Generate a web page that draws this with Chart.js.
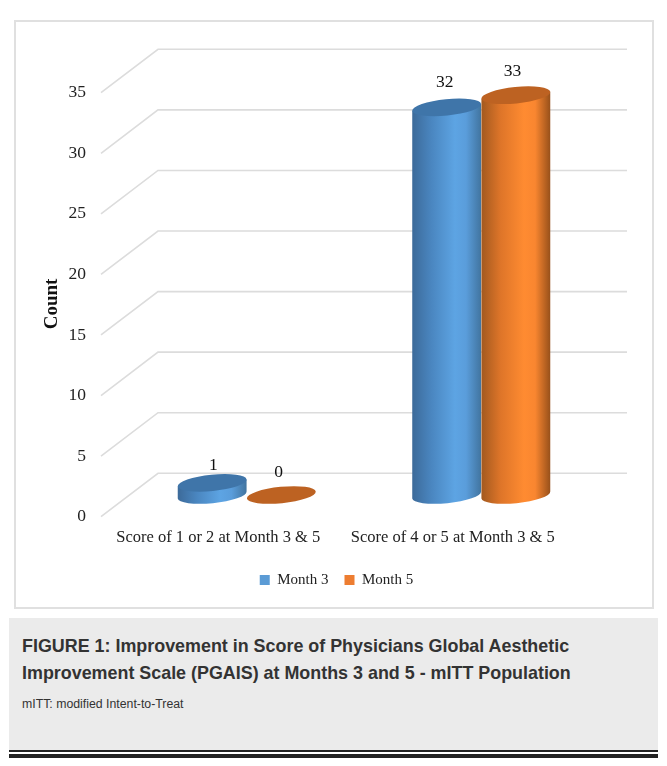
<!DOCTYPE html>
<html>
<head>
<meta charset="utf-8">
<title>PGAIS improvement</title>
<style>
  html, body { margin: 0; padding: 0; background: #fff; }
  #page { position: relative; width: 667px; height: 766px; overflow: hidden; }
  #frame { position: absolute; left: 14px; top: 20px; width: 636px; height: 585px; border: 2px solid #e0e0e0; }
  #chart { position: absolute; left: 0; top: 0; }
  #caption { position: absolute; left: 9px; top: 618px; width: 649px; height: 132px; background: #ebebeb; color: #333; font-family: "Liberation Sans", sans-serif; }
  #caption h3 { position: absolute; left: 13px; top: 15px; margin: 0; font-size: 17.9px; line-height: 27px; font-weight: bold; white-space: nowrap; }
  #caption p { position: absolute; left: 13px; top: 79px; margin: 0; font-size: 12.3px; line-height: 14px; white-space: nowrap; }
  #rule1 { position: absolute; left: 9px; top: 750px; width: 649px; height: 2px; background: #222; }
  #rule2 { position: absolute; left: 9px; top: 754px; width: 649px; height: 4px; background: #222; }
</style>
<script src="https://cdn.jsdelivr.net/npm/chart.js@4"></script>
</head>
<body>
<div id="page">
  <div id="frame"></div>
  <canvas id="chart" width="667" height="612"></canvas>
  <div id="caption">
    <h3>FIGURE 1: Improvement in Score of Physicians Global Aesthetic<br>Improvement Scale (PGAIS) at Months 3 and 5 - mITT Population</h3>
    <p>mITT: modified Intent-to-Treat</p>
  </div>
  <div id="rule1"></div>
  <div id="rule2"></div>
</div>
<script>
const categories = ['Score of 1 or 2 at Month 3 & 5', 'Score of 4 or 5 at Month 3 & 5'];
const seriesNames = ['Month 3', 'Month 5'];
const month3Values = [1, 32];
const month5Values = [0, 33];
const axisTitle = 'Count';

const serifFont = '"Liberation Serif", "Times New Roman", serif';

// half of the fake 3D floor depth, in pixels
const depthX = 28.5;
const depthY = 21.7;
const tilt = -0.1;
const capRadiusY = 8.2;

// value label offset from the cap centre, per series and category
const labelLift = [[17.5, 25], [23, 23.5]];
const labelShift = [[1.3, -2], [-2.7, -3.4]];

const shades = [
  { legend: '#5b9bd5', cap: '#3f75a9', side: ['#3c6a99', '#4a86c0', '#5da4e3', '#5a9ddb', '#41749f'] },
  { legend: '#ed7d31', cap: '#bd6222', side: ['#a2591f', '#de7529', '#ff8b31', '#f98630', '#97501a'] }
];

// back wall and side wall lines, one pair per y tick
const wallGrid = {
  id: 'wallGrid',
  afterLayout(chart) {
    // nudge the legend over, the y axis padding pulls it left of the frame centre
    chart.legend.left += 5;
    chart.legend.right += 5;
  },
  beforeDatasetsDraw(chart) {
    const { ctx, chartArea, scales } = chart;
    ctx.save();
    ctx.strokeStyle = '#dcdcdc';
    ctx.lineWidth = 1.6;
    scales.y.ticks.forEach(t => {
      const py = scales.y.getPixelForValue(t.value);
      ctx.beginPath();
      ctx.moveTo(chartArea.left - depthX, py + depthY);
      ctx.lineTo(chartArea.left + depthX, py - depthY);
      ctx.lineTo(chartArea.right + depthX, py - depthY);
      ctx.stroke();
    });
    ctx.restore();
  }
};

function drawCylinder(ctx, bar, shade) {
  const { x, y, base, width } = bar.getProps(['x', 'y', 'base', 'width'], true);
  const rx = width / 2;
  const dx = rx * Math.cos(tilt);
  const dy = rx * Math.sin(tilt);

  if (base - y > 0.5) {
    const grad = ctx.createLinearGradient(x - rx, 0, x + rx, 0);
    shade.side.forEach((c, i) => grad.addColorStop([0, 0.28, 0.62, 0.78, 1][i], c));
    ctx.fillStyle = grad;
    ctx.beginPath();
    ctx.moveTo(x - dx, y - dy);
    ctx.lineTo(x - dx, base - dy);
    ctx.ellipse(x, base, rx, capRadiusY, tilt, Math.PI, 0, true);
    ctx.lineTo(x + dx, y + dy);
    ctx.closePath();
    ctx.fill();
  }

  ctx.fillStyle = shade.cap;
  ctx.beginPath();
  ctx.ellipse(x, y, rx, capRadiusY, tilt, 0, Math.PI * 2);
  ctx.fill();
}

// bars come out as cylinders, shorter one first so the taller sits in front
const cylinders = {
  id: 'cylinders',
  beforeDatasetDraw() {
    return false;
  },
  afterDatasetsDraw(chart) {
    const { ctx, data } = chart;
    categories.forEach((_, i) => {
      const order = data.datasets
        .map((ds, d) => ({ d, value: ds.data[i] }))
        .sort((a, b) => a.value - b.value);
      order.forEach(({ d }) => {
        drawCylinder(ctx, chart.getDatasetMeta(d).data[i], shades[d]);
      });
    });

    ctx.save();
    ctx.fillStyle = '#111';
    ctx.font = '17.5px ' + serifFont;
    ctx.textAlign = 'center';
    ctx.textBaseline = 'middle';
    data.datasets.forEach((ds, d) => {
      chart.getDatasetMeta(d).data.forEach((bar, i) => {
        ctx.fillText(String(ds.data[i]), bar.x + labelShift[d][i], bar.y - labelLift[d][i]);
      });
    });

    // rotated y axis title
    ctx.translate(chart.chartArea.left - 77, 304);
    ctx.rotate(-Math.PI / 2);
    ctx.font = 'bold 19px ' + serifFont;
    ctx.fillText(axisTitle, 0, 0);
    ctx.restore();
  }
};

new Chart(document.querySelector('#chart'), {
  type: 'bar',
  data: {
    labels: categories,
    datasets: [
      { label: seriesNames[0], data: month3Values, backgroundColor: shades[0].legend },
      { label: seriesNames[1], data: month5Values, backgroundColor: shades[1].legend }
    ]
  },
  plugins: [wallGrid, cylinders],
  options: {
    responsive: false,
    animation: false,
    layout: { padding: { left: 64.5, right: 68.5, top: 71, bottom: 14.5 } },
    datasets: { bar: { barPercentage: 1, categoryPercentage: 0.59 } },
    scales: {
      x: {
        grid: { display: false },
        border: { display: false },
        ticks: {
          color: '#222',
          font: { family: serifFont, size: 16.5 },
          padding: 25,
          labelOffset: -depthX,
          maxRotation: 0,
          autoSkip: false
        },
        afterFit(scale) {
          scale.height = 61.5;
          scale.paddingLeft = 0;
          scale.paddingRight = 0;
        }
      },
      y: {
        min: 0,
        max: 35,
        grid: { display: false },
        border: { display: false },
        ticks: {
          stepSize: 5,
          color: '#222',
          font: { family: serifFont, size: 17.5 },
          padding: 35.5,
          labelOffset: depthY
        },
        afterFit(scale) {
          scale.width = 65;
          scale.paddingTop = 0;
          scale.paddingBottom = 0;
        }
      }
    },
    plugins: {
      tooltip: { enabled: false },
      legend: {
        position: 'bottom',
        labels: {
          color: '#222',
          boxWidth: 10,
          boxHeight: 10,
          padding: 16,
          font: { family: serifFont, size: 15 }
        }
      }
    }
  }
});
</script>
</body>
</html>
